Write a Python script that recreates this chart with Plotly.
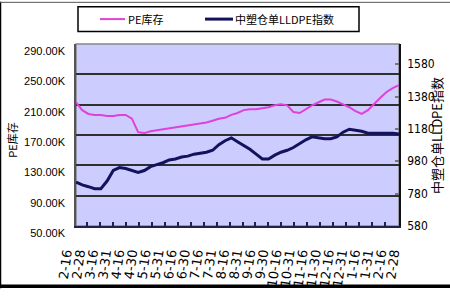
import plotly.graph_objects as go

# ---- data ----
dates = ["2-16", "2-28", "3-16", "3-31", "4-16", "4-30", "5-16", "5-31", "6-16", "6-30",
         "7-16", "7-31", "8-16", "8-31", "9-16", "9-30", "10-16", "10-31", "11-16", "11-30",
         "12-16", "12-31", "1-16", "1-31", "2-16", "2-28"]

pe_stock = [212.9, 202.8, 197.8, 196.5, 196.5, 195.2, 195.2, 196.5, 196.5, 191.5,
            173.8, 172.5, 175.0, 176.3, 177.6, 178.8, 180.1, 181.4, 182.6, 183.9,
            185.1, 186.4, 188.9, 191.5, 192.7, 196.5, 199.0, 202.8, 204.1, 204.1,
            205.3, 206.6, 209.1, 210.4, 209.1, 200.3, 199.0, 204.1, 209.1, 212.9,
            216.7, 216.7, 214.2, 210.4, 206.6, 201.6, 197.8, 202.8, 211.7, 219.2,
            226.8, 231.9, 235.7]

lldpe_index = [852, 834, 823, 811, 811, 858, 923, 941, 935, 923,
               911, 923, 947, 959, 971, 988, 994, 1006, 1012, 1024,
               1030, 1036, 1048, 1083, 1107, 1125, 1101, 1077, 1054, 1024,
               994, 994, 1018, 1036, 1048, 1065, 1089, 1113, 1131, 1125,
               1119, 1119, 1131, 1160, 1178, 1172, 1166, 1154, 1154, 1154,
               1154, 1154, 1148]

left_ticks = [50, 90, 130, 170, 210, 250, 290]
left_tick_text = ["50.00K", "90.00K", "130.00K", "170.00K", "210.00K", "250.00K", "290.00K"]
right_ticks = [580, 780, 980, 1180, 1380, 1580]

series_names = ["PE库存", "中塑仓单LLDPE指数"]

# ---- layout geometry ----
W, H = 450, 300
ML, MR, MT, MB = 50, 40, 44, 66
PW, PH = W - ML - MR, H - MT - MB


def px_x(p):
    return (p - ML) / PW


def px_y(p):
    return (H - MB - p) / PH


PINK = "#E040DC"
NAVY = "#12125E"
BG = "#CCCCFF"

xs = list(range(len(pe_stock)))

fig = go.Figure()
fig.add_trace(go.Scatter(x=xs, y=pe_stock, name=series_names[0], mode="lines",
                         line=dict(color=PINK, width=2), xaxis="x", yaxis="y"))
fig.add_trace(go.Scatter(x=xs, y=lldpe_index, name=series_names[1], mode="lines",
                         line=dict(color=NAVY, width=3), xaxis="x", yaxis="y2"))
# carrier for the category label axis
fig.add_trace(go.Scatter(x=[None], y=[None], xaxis="x2", yaxis="y3",
                         showlegend=False, hoverinfo="skip"))

n = len(xs) - 1
LEG_Y = 18
fig.update_layout(
    width=W, height=H,
    margin=dict(l=ML, r=MR, t=MT, b=MB, pad=0),
    paper_bgcolor="white",
    plot_bgcolor="rgba(0,0,0,0)",
    showlegend=False,
    xaxis=dict(domain=[px_x(76), px_x(399)], range=[0, n], anchor="y",
               showticklabels=False, showgrid=False, zeroline=False,
               tickmode="linear", tick0=n * (87 - 76) / 323, dtick=n * 12.96 / 323,
               ticks="inside", ticklen=4, tickwidth=1.5, tickcolor="#222244",
               showline=True, linecolor="#222244", linewidth=1.5),
    yaxis=dict(domain=[0, 1], range=[50, 290], anchor="x",
               tickmode="array", tickvals=left_ticks, ticktext=left_tick_text,
               ticks="outside", ticklen=7, tickcolor="rgba(0,0,0,0)", ticklabelshift=7,
               tickfont=dict(family="Liberation Sans", size=11, color="black"),
               showgrid=True, gridcolor="#303030", gridwidth=1.5, zeroline=False,
               showline=True, linecolor="#555555", linewidth=1.5),
    yaxis2=dict(overlaying="y", side="right", anchor="x", range=[580, 1705],
                tickmode="array", tickvals=right_ticks,
                ticks="inside", ticklen=4, tickcolor="#777777", tickwidth=1.5,
                ticklabelstandoff=4,
                tickfont=dict(family="Liberation Sans Narrow, DejaVu Sans Condensed", size=12,
                              color="black"),
                showgrid=False, zeroline=False,
                showline=True, linecolor="#111111", linewidth=1.5),
    xaxis2=dict(domain=[0, 1], anchor="y3",
                range=[-15.5 / 13.1, (W - MR - 65.5) / 13.1],
                tickmode="array", tickvals=list(range(len(dates))), ticktext=dates,
                tickangle=-82, ticks="", ticklabelstandoff=16,
                tickfont=dict(family="DejaVu Sans", size=13, color="black"),
                showgrid=False, zeroline=False, showline=False),
    yaxis3=dict(domain=[0, 1], anchor="x2", range=[0, 1], visible=False),
    shapes=[
        dict(type="rect", xref="x domain", yref="y domain", x0=0, x1=1, y0=0, y1=1,
             fillcolor=BG, line=dict(color="#888888", width=1.5), layer="below"),
        # legend box and samples
        dict(type="rect", xref="paper", yref="paper",
             x0=px_x(78), x1=px_x(359), y0=px_y(31), y1=px_y(5),
             line=dict(color="black", width=1.5), fillcolor="rgba(0,0,0,0)"),
        dict(type="line", xref="paper", yref="paper",
             x0=px_x(100), x1=px_x(125), y0=px_y(LEG_Y), y1=px_y(LEG_Y),
             line=dict(color=PINK, width=2)),
        dict(type="line", xref="paper", yref="paper",
             x0=px_x(205), x1=px_x(233), y0=px_y(LEG_Y), y1=px_y(LEG_Y),
             line=dict(color=NAVY, width=3)),
        # outer frame
        dict(type="line", xref="paper", yref="paper",
             x0=px_x(0.5), x1=px_x(0.5), y0=px_y(0), y1=px_y(299),
             line=dict(color="black", width=1.5)),
        dict(type="line", xref="paper", yref="paper",
             x0=px_x(0), x1=px_x(450), y0=px_y(0.5), y1=px_y(0.5),
             line=dict(color="#555555", width=1)),
        dict(type="line", xref="paper", yref="paper",
             x0=px_x(0), x1=px_x(450), y0=px_y(297), y1=px_y(297),
             line=dict(color="black", width=3.5)),
    ],
    annotations=[
        dict(text=series_names[0], xref="paper", yref="paper", x=px_x(126), y=px_y(LEG_Y),
             showarrow=False, xanchor="left", yanchor="middle",
             font=dict(family="Noto Sans CJK SC", size=11, color="black")),
        dict(text=series_names[1], xref="paper", yref="paper", x=px_x(233), y=px_y(LEG_Y),
             showarrow=False, xanchor="left", yanchor="middle",
             font=dict(family="Noto Sans CJK SC", size=11, color="black")),
        dict(text=series_names[0], xref="paper", yref="paper", x=px_x(12), y=px_y(145),
             textangle=-90, showarrow=False, xanchor="center", yanchor="middle",
             font=dict(family="Noto Sans CJK SC", size=11, color="black")),
        dict(text=series_names[1], xref="paper", yref="paper", x=px_x(437), y=px_y(140),
             textangle=-90, showarrow=False, xanchor="center", yanchor="middle",
             font=dict(family="Noto Sans CJK SC", size=13, color="black")),
    ],
)

fig.write_html("out.html")
